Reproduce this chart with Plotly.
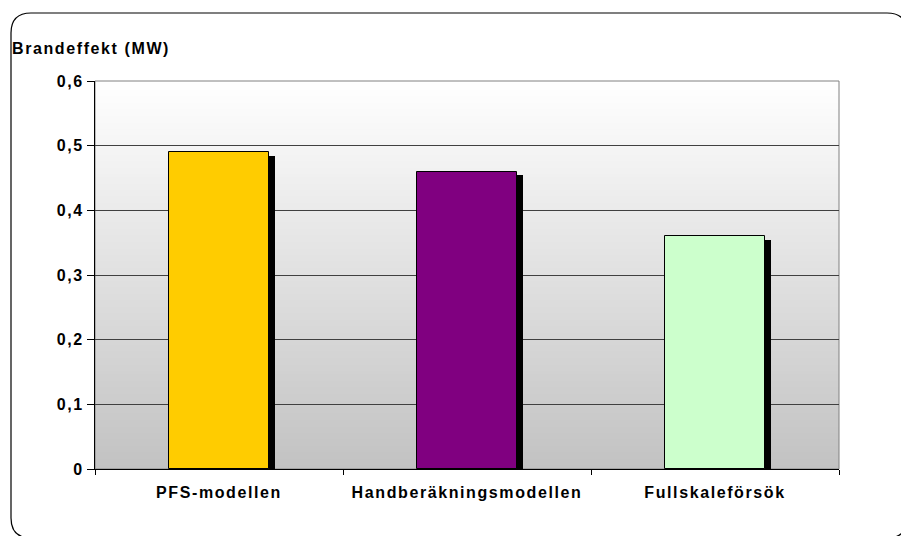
import plotly.graph_objects as go

# Data
categories = ["PFS-modellen", "Handberäkningsmodellen", "Fullskaleförsök"]
values = [0.49, 0.46, 0.36]
bar_colors = ["#FFCC00", "#800080", "#CCFFCC"]
y_ticks = [0, 0.1, 0.2, 0.3, 0.4, 0.5, 0.6]
y_tick_labels = ["0", "0,1", "0,2", "0,3", "0,4", "0,5", "0,6"]
y_title = "Brandeffekt (MW)"

W, H = 901, 536
L, R, T, B = 95, 62, 81, 67
pw, ph = W - L - R, H - T - B

FONT = "Arial, 'Liberation Sans', sans-serif"
FS = 16
BAR_W = 0.4
SHADOW_DX = 0.025       # shadow shift to the right (category units)
SHADOW_DY = 0.0055      # shadow drop (value units)

fig = go.Figure()

# drop shadow behind each bar
fig.add_trace(go.Bar(
    x=categories,
    y=[v - SHADOW_DY for v in values],
    width=BAR_W,
    offset=-BAR_W / 2 + SHADOW_DX,
    marker=dict(color="#000000", line=dict(width=0)),
    hoverinfo="skip",
    showlegend=False,
))

# main bars
fig.add_trace(go.Bar(
    x=categories,
    y=values,
    width=BAR_W,
    offset=-BAR_W / 2,
    marker=dict(color=bar_colors, line=dict(color="#000000", width=1)),
    showlegend=False,
))

shapes = []

# vertical gradient for the plot background (white -> grey)
n_bands = 120
top_c, bot_c = 255, 194
for i in range(n_bands):
    y0 = 1 - (i + 1) / n_bands
    y1 = 1 - i / n_bands
    t = (i + 0.5) / n_bands
    c = round(top_c + (bot_c - top_c) * t)
    shapes.append(dict(
        type="rect", xref="paper", yref="paper",
        x0=0, x1=1, y0=y0, y1=y1 + 0.002,
        fillcolor=f"rgb({c},{c},{c})", line=dict(width=0), layer="below",
    ))

# grey frame around the plot area
shapes.append(dict(
    type="rect", xref="paper", yref="paper", x0=0, x1=1, y0=0, y1=1,
    line=dict(color="#808080", width=1), fillcolor="rgba(0,0,0,0)", layer="between",
))


# rounded outer border of the chart, given in pixels and converted to paper units
def px(x):
    return (x - L) / pw


def py(y):
    return (H - B - y) / ph


bx0, bx1, by0, by1, r = 11, 907, 13, 538, 20
path = (
    f"M {px(bx0)},{py(by0 + r)} "
    f"Q {px(bx0)},{py(by0)} {px(bx0 + r)},{py(by0)} "
    f"L {px(bx1 - r)},{py(by0)} "
    f"Q {px(bx1)},{py(by0)} {px(bx1)},{py(by0 + r)} "
    f"L {px(bx1)},{py(by1 - r)} "
    f"Q {px(bx1)},{py(by1)} {px(bx1 - r)},{py(by1)} "
    f"L {px(bx0 + r)},{py(by1)} "
    f"Q {px(bx0)},{py(by1)} {px(bx0)},{py(by1 - r)} Z"
)
shapes.append(dict(
    type="path", xref="paper", yref="paper", path=path,
    line=dict(color="#000000", width=1.2), fillcolor="rgba(0,0,0,0)", layer="above",
))

fig.update_layout(
    width=W, height=H,
    margin=dict(l=L, r=R, t=T, b=B, pad=0),
    paper_bgcolor="#FFFFFF",
    plot_bgcolor="#FFFFFF",
    barmode="overlay",
    bargap=0,
    shapes=shapes,
    font=dict(family=FONT, size=FS, color="#000000", weight="bold"),
    title=dict(
        text=y_title, x=12 / W, xanchor="left", xref="container",
        y=(H - 48) / H, yanchor="middle", yref="container",
        font=dict(family=FONT, size=FS, color="#000000", weight="bold"),
    ),
    xaxis=dict(
        type="category",
        range=[-0.5, 2.5],
        showline=True, linecolor="#000000", linewidth=1,
        ticks="outside", tickson="boundaries", ticklen=5, tickcolor="#000000",
        showgrid=False,
        ticklabelstandoff=9,
        tickfont=dict(family=FONT, size=FS, color="#000000", weight="bold"),
    ),
    yaxis=dict(
        range=[0, 0.6],
        tickvals=y_ticks, ticktext=y_tick_labels,
        showline=True, linecolor="#000000", linewidth=1,
        ticks="outside", ticklen=7, tickcolor="#000000",
        showgrid=True, gridcolor="#404040", gridwidth=1,
        zeroline=False,
        tickfont=dict(family=FONT, size=FS, color="#000000", weight="bold"),
    ),
)

# widen the character spacing of all chart texts
post = """
var gd = document.getElementById('{plot_id}');
gd.querySelectorAll('text').forEach(function (t) {
  t.setAttribute('letter-spacing', '1.6px');
});
"""

fig.write_html("out.html", post_script=post, config={"responsive": False, "displayModeBar": False})
